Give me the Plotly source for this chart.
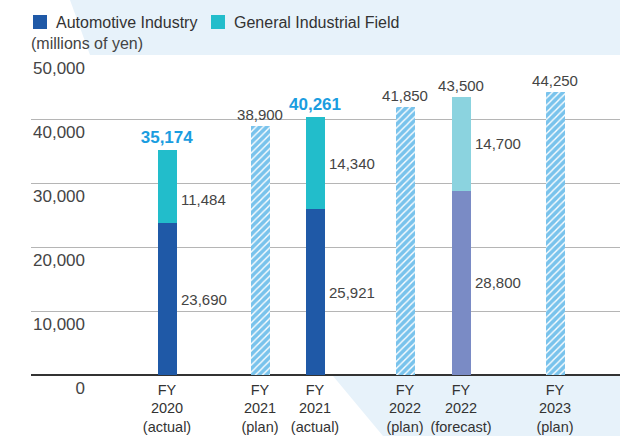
import plotly.graph_objects as go

# Data ---
fy_labels = ["FY<br>2020<br>(actual)", "FY<br>2021<br>(plan)", "FY<br>2021<br>(actual)",
             "FY<br>2022<br>(plan)", "FY<br>2022<br>(forecast)", "FY<br>2023<br>(plan)"]

# actual / forecast bars (stacked)
actual_idx = [0, 2, 4]
automotive = [23690, 25921, 28800]
general = [11484, 14340, 14700]

# plan bars (single hatched)
plan_idx = [1, 3, 5]
plan_total = [38900, 41850, 44250]

yticks = [0, 10000, 20000, 30000, 40000, 50000]
legend_names = ["Automotive Industry", "General Industrial Field"]

# Layout helpers (pixel-like x units) ---
W, H = 620, 436
x_pos = [167, 260, 315, 405, 461, 555]
bar_w = 19
general_label_shift = [-13, 0, 0]
legend_x = [33, 211]

DARK = "#1f59a7"
TEAL = "#22bdcb"
AUTO_FC = "#7a8bc5"
GEN_FC = "#8bd3df"
HATCH = "#79c3ec"
BLUE_TXT = "#1a9de0"
GREY_TXT = "#444444"
BG = "#e7f2fa"
FONT = "Liberation Sans, Arial, sans-serif"

xa = [x_pos[i] for i in actual_idx]
xp = [x_pos[i] for i in plan_idx]
totals = [a + g for a, g in zip(automotive, general)]

fig = go.Figure()

fig.add_trace(go.Bar(
    x=xa, y=automotive, width=bar_w, name=legend_names[0],
    marker=dict(color=[DARK, DARK, AUTO_FC], line_width=0),
))
fig.add_trace(go.Bar(
    x=xa, y=general, width=bar_w, name=legend_names[1],
    marker=dict(color=[TEAL, TEAL, GEN_FC], line_width=0),
    text=["<b>%s</b>" % f"{totals[0]:,}", "<b>%s</b>" % f"{totals[1]:,}", f"{totals[2]:,}"],
    textposition="outside", constraintext="none",
    textfont=dict(color=[BLUE_TXT, BLUE_TXT, GREY_TXT], size=[17, 17, 15], family=FONT),
    cliponaxis=False,
))
fig.add_trace(go.Bar(
    x=xp, y=plan_total, width=bar_w, name="plan",
    marker=dict(color=HATCH, line_width=0,
                pattern=dict(shape="/", bgcolor=HATCH, fgcolor="white",
                             size=5, solidity=0.28, fillmode="replace")),
    text=[f"{v:,}" for v in plan_total],
    textposition="outside", constraintext="none",
    textfont=dict(color=GREY_TXT, size=15, family=FONT),
    cliponaxis=False,
))

# segment labels to the right of the stacked bars
for k, x in enumerate(xa):
    fig.add_annotation(x=x + 12, y=automotive[k] / 2, text=f"{automotive[k]:,}",
                       xanchor="left", showarrow=False,
                       font=dict(size=15, color=GREY_TXT, family=FONT))
    fig.add_annotation(x=x + 12, y=automotive[k] + general[k] / 2, text=f"{general[k]:,}",
                       xanchor="left", showarrow=False, yshift=general_label_shift[k],
                       font=dict(size=15, color=GREY_TXT, family=FONT))

top, bottom = 55, 375
ph = bottom - top


def py(p):
    return (bottom - p) / ph


# legend (drawn by hand to match the square size / spacing)
for name, col, lx in zip(legend_names, [DARK, TEAL], legend_x):
    fig.add_shape(type="rect", xref="paper", yref="paper", line_width=0, fillcolor=col,
                  x0=lx / W, x1=(lx + 14) / W, y0=py(29), y1=py(15))
    fig.add_annotation(xref="paper", yref="paper", x=(lx + 21) / W, y=py(22), text=name,
                       xanchor="left", yanchor="middle", showarrow=False,
                       font=dict(size=16, color="#333333", family=FONT))

# unit label
fig.add_annotation(xref="paper", yref="paper", x=29 / W, y=py(44), text="(millions of yen)",
                   xanchor="left", yanchor="middle", showarrow=False,
                   font=dict(size=16, color=GREY_TXT, family=FONT))

# light blue background bands
fig.add_shape(type="path", xref="paper", yref="paper", layer="below", line_width=0,
              fillcolor=BG,
              path=f"M {70/W},{py(0)} L 1,{py(0)} L 1,{py(55)} L {90/W},{py(55)} Z")
fig.add_shape(type="path", xref="paper", yref="paper", layer="below", line_width=0,
              fillcolor=BG,
              path=f"M {333/W},{py(376)} L 1,{py(376)} L 1,{py(436)} L {383/W},{py(436)} Z")

fig.update_xaxes(
    range=[31, W], domain=[31 / W, 1],
    tickvals=x_pos, ticktext=fy_labels,
    tickfont=dict(size=14.5, color="#333333", family=FONT),
    showgrid=False, zeroline=False, showline=False, ticks="",
    ticklabelstandoff=4, automargin=False,
)
fig.update_yaxes(
    range=[0, 50000], tickvals=yticks, ticktext=[f"{v:,}" for v in yticks],
    anchor="free", position=88 / W,
    ticklabelposition="outside", ticklabelshift=13, ticklabelstandoff=3,
    tickfont=dict(size=17, color=GREY_TXT, family=FONT),
    showgrid=True, gridcolor="#b5b5b5", gridwidth=1.3,
    zeroline=True, zerolinecolor="#333333", zerolinewidth=1.5,
    showline=False, ticks="", automargin=False,
)
fig.update_layout(
    width=W, height=H,
    margin=dict(l=0, r=0, t=top, b=H - bottom, pad=0, autoexpand=False),
    barmode="stack",
    plot_bgcolor="white", paper_bgcolor="white",
    font=dict(family=FONT, color=GREY_TXT),
    showlegend=False,
)

fig.write_html("out.html", config={"displayModeBar": False},
               post_script="document.body.style.margin='0';")
